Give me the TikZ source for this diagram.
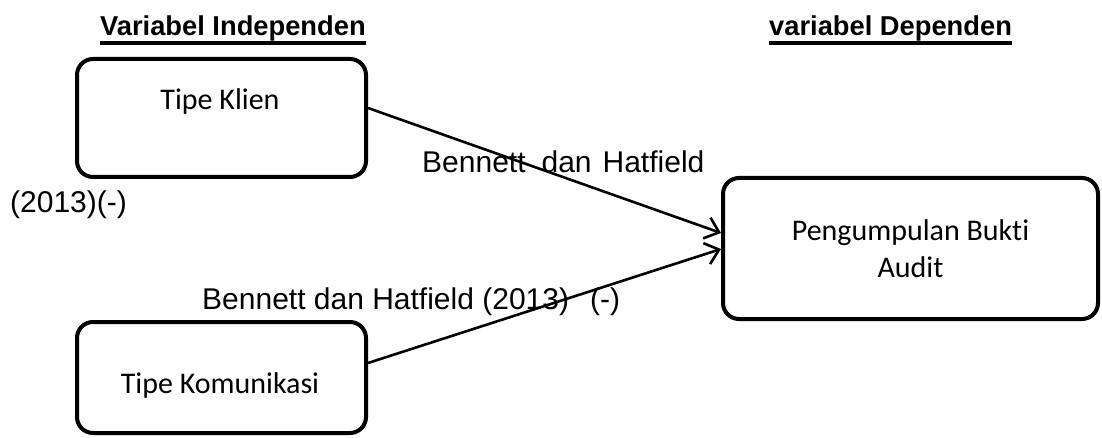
\documentclass[tikz,border=0pt]{standalone}
\usepackage{fontspec}
\setmainfont{Liberation Sans}
\newfontfamily\calibrifont[Ligatures=NoCommon]{Carlito}
\usetikzlibrary{arrows.meta,calc}
\tikzset{
  varbox/.style={draw, line width=4pt, rounded corners=16pt, inner sep=0pt},
  boxtext/.style={font=\calibrifont\fontsize{30}{37}\selectfont, inner sep=0pt, anchor=base, align=center},
  heading/.style={font=\bfseries\fontsize{27.3}{30}\selectfont, inner sep=0pt, anchor=base west},
  reflabel/.style={font=\fontsize{30}{33}\selectfont, inner sep=0pt, anchor=base west},
  ulink/.style={line width=3.6pt},
  conn/.style={line width=2.6pt, -{Straight Barb[length=13pt,width=22pt,line width=2.6pt]}}
}
\begin{document}
\begin{tikzpicture}[x=1pt,y=-1pt]
\useasboundingbox (0,0) rectangle (1102,438);
% headings
\node[heading] (hind) at (100,36) {Variabel Independen};
\node[heading] (hdep) at (769,36) {variabel Dependen};
\draw[ulink] ([yshift=-7pt]hind.base west) -- ([yshift=-7pt]hind.base east);
\draw[ulink] ([yshift=-7pt]hdep.base west) -- ([yshift=-7pt]hdep.base east);
% boxes
\node[varbox, minimum width=289pt, minimum height=118pt] (klien) at (221.5,118) {};
\node[boxtext] (tklien) at (220,110) {Tipe Klien};
\node[varbox, minimum width=289pt, minimum height=111pt] (komun) at (221.5,377.5) {};
\node[boxtext] (tkomun) at (220,393) {Tipe Komunikasi};
\node[varbox, minimum width=375pt, minimum height=141pt, font=\calibrifont\fontsize{30}{37}\selectfont, align=center] (bukti) at (910.5,248.5) {Pengumpulan Bukti\\Audit};
% connectors
\draw[conn] ([yshift=10pt]klien.east) -- ([yshift=15.5pt]bukti.west);
\draw[conn] ([yshift=14.5pt]komun.east) -- ([yshift=-0.5pt]bukti.west);
% labels
\node[reflabel] (l1) at (422,173) {Bennett\hspace{16pt}dan\hspace{11pt}Hatfield};
\node[reflabel] (l2) at (10,213) {(2013)(-)};
\node[reflabel] (l3) at (202,309) {Bennett dan Hatfield (2013)};
\node[reflabel] (l4) at (590,309) {(-)};
\end{tikzpicture}
\end{document}
